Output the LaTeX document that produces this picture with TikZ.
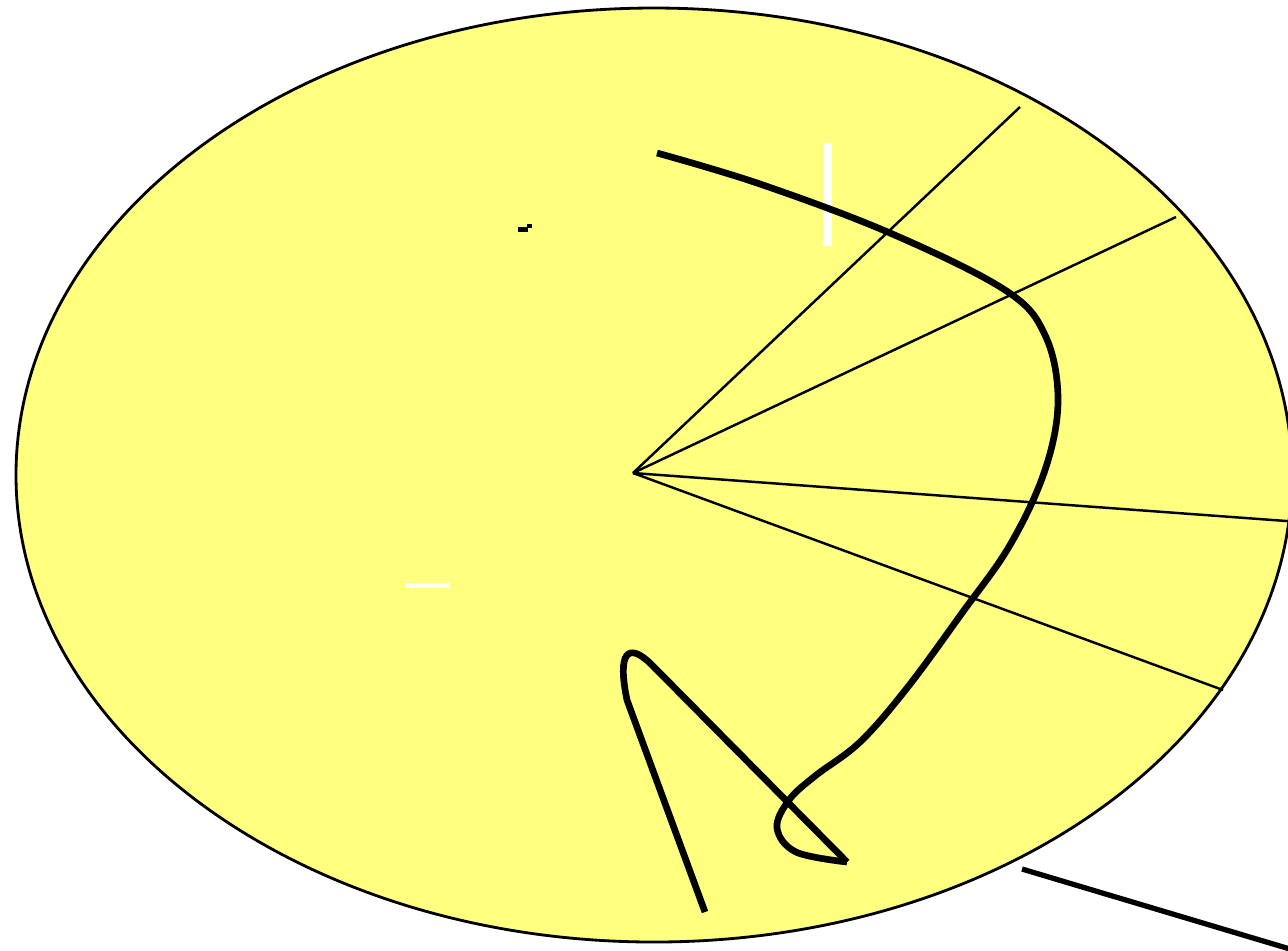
\documentclass[tikz,border=0pt]{standalone}
\usepackage{tikz}
\usetikzlibrary{calc}
\definecolor{PaleYellow}{HTML}{FFFF80}

\begin{document}
\begin{tikzpicture}[x=0.01cm,y=-0.01cm,
      rim/.style={draw=black,line width=0.8pt,fill=PaleYellow},
      ray/.style={black,line width=0.7pt},
      stroke/.style={black,line width=1.9pt,line join=round},
      gap/.style={fill=white,draw=none}]
      \useasboundingbox (0,0) rectangle (1288,950);
      \clip (0,0) rectangle (1288,950);
      % disc and its spokes
      \draw[rim] (654,475) ellipse[x radius=638,y radius=467];
      \coordinate (hub) at (633,473);
      \coordinate (s1) at (1020,107);
      \coordinate (s2) at (1176,217);
      \coordinate (s3) at (1300,522);
      \coordinate (s4) at (1223,690);
      \foreach \s in {s1,s2,s3,s4}
        \draw[ray] (hub)--(\s);
      % white marks and the small dash
      \fill[gap] (823,143) rectangle (832,246);
      \fill[gap] (405,583) rectangle (450,588);
      \fill (518,227) rectangle (528,232);
      \fill (527,224) rectangle (532,228);
      % the hand-drawn stroke
      \coordinate (start) at (657,153);
      \coordinate (tip) at (847,862);
      \coordinate (foot) at (705,912);
      \draw[stroke] plot[smooth,tension=0.6] coordinates {(start) (760,184) (890,233) (1005,290)
        (1045,335) (1058,400) (1045,470) (1010,545) (962,613) (907,688) (860,742)
        (815,776) (789,800) (777,828) (796,852) (tip)};
      \draw[stroke] (tip)--(652,665) .. controls (628,641) and (617,652) .. (627,700)--(foot);
      % outer line
      \coordinate (tail) at (1022,869);
      \coordinate (exit) at (1300,952);
      \draw[black,line width=1.5pt] (tail)--(exit);
    \end{tikzpicture}
\end{document}
